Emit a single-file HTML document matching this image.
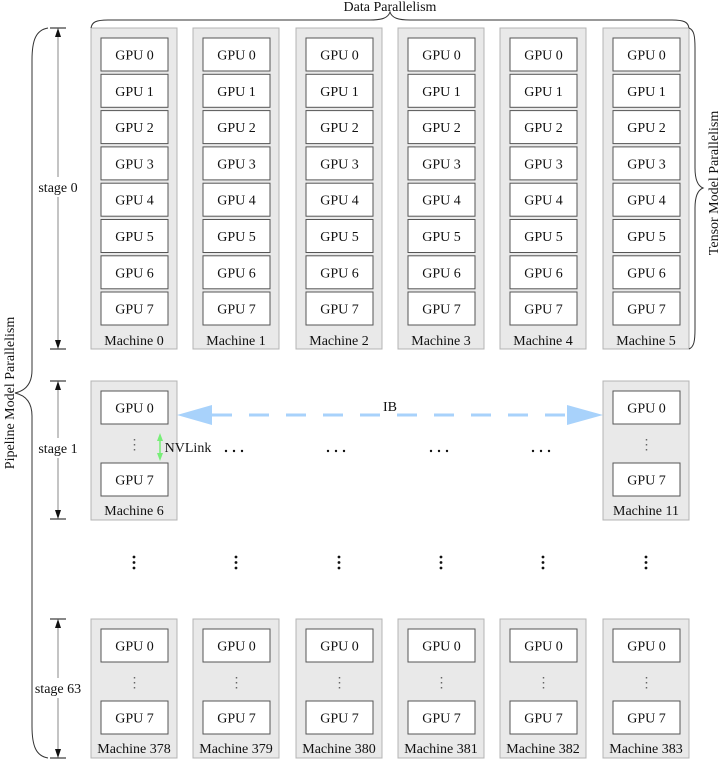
<!DOCTYPE html>
<html><head><meta charset="utf-8"><style>
html,body{margin:0;padding:0;background:#fff;}
svg{display:block;font-family:"Liberation Serif",serif;}
.m{fill:#e9e9e9;stroke:#b4b4b4;stroke-width:1;}
.g{fill:#fff;stroke:#555;stroke-width:1;}
text{font-size:14px;fill:#111;text-anchor:middle;}
</style></head><body>
<svg width="728" height="769" viewBox="0 0 728 769" xmlns="http://www.w3.org/2000/svg">
<defs>
<g id="top">
<rect class="m" x="0" y="28" width="86" height="321"/>
<rect class="g" x="10" y="38" width="67" height="33"/><text x="43.5" y="59.5">GPU 0</text>
<rect class="g" x="10" y="74.3" width="67" height="33"/><text x="43.5" y="95.8">GPU 1</text>
<rect class="g" x="10" y="110.6" width="67" height="33"/><text x="43.5" y="132.1">GPU 2</text>
<rect class="g" x="10" y="146.9" width="67" height="33"/><text x="43.5" y="168.4">GPU 3</text>
<rect class="g" x="10" y="183.2" width="67" height="33"/><text x="43.5" y="204.7">GPU 4</text>
<rect class="g" x="10" y="219.5" width="67" height="33"/><text x="43.5" y="241">GPU 5</text>
<rect class="g" x="10" y="255.8" width="67" height="33"/><text x="43.5" y="277.3">GPU 6</text>
<rect class="g" x="10" y="292" width="67" height="33"/><text x="43.5" y="313.5">GPU 7</text>
</g>
<g id="small">
<rect class="m" x="0" y="0" width="86" height="139"/>
<rect class="g" x="10" y="10" width="67" height="33"/><text x="43.5" y="31.5">GPU 0</text>
<text x="43.5" y="68" style="fill:#666">⋮</text>
<rect class="g" x="10" y="82" width="67" height="33"/><text x="43.5" y="103.5">GPU 7</text>
</g>
<g id="vd"><circle cx="0" cy="0" r="1.4" fill="#111"/><circle cx="0" cy="5.5" r="1.4" fill="#111"/><circle cx="0" cy="11" r="1.4" fill="#111"/></g>
<g id="hd"><circle cx="-8" cy="0" r="1.2" fill="#111"/><circle cx="0" cy="0" r="1.2" fill="#111"/><circle cx="8" cy="0" r="1.2" fill="#111"/></g>
</defs>

<use href="#top" x="91"/><text x="134" y="345">Machine 0</text>
<use href="#top" x="193"/><text x="236" y="345">Machine 1</text>
<use href="#top" x="296"/><text x="339" y="345">Machine 2</text>
<use href="#top" x="398"/><text x="441" y="345">Machine 3</text>
<use href="#top" x="500"/><text x="543" y="345">Machine 4</text>
<use href="#top" x="603"/><text x="646" y="345">Machine 5</text>

<use href="#small" x="91" y="381"/><text x="134" y="515">Machine 6</text>
<use href="#small" x="603" y="381"/><text x="646" y="515">Machine 11</text>
<use href="#hd" x="234" y="451"/><use href="#hd" x="336" y="451"/><use href="#hd" x="439" y="451"/><use href="#hd" x="541" y="451"/>

<line x1="212" y1="415" x2="568" y2="415" stroke="#a8d2fb" stroke-width="3" stroke-dasharray="20 17"/>
<polygon points="177,415 212,405 212,425" fill="#a8d2fb"/>
<polygon points="603,415 567,405 567,425" fill="#a8d2fb"/>
<text x="390" y="411">IB</text>

<line x1="160" y1="438" x2="160" y2="456" stroke="#77ee77" stroke-width="1.5"/>
<polygon points="160,433 157,441 163,441" fill="#77ee77"/>
<polygon points="160,461 157,453 163,453" fill="#77ee77"/>
<text x="188" y="452">NVLink</text>

<use href="#vd" x="134" y="557"/><use href="#vd" x="236" y="557"/><use href="#vd" x="339" y="557"/><use href="#vd" x="441" y="557"/><use href="#vd" x="543" y="557"/><use href="#vd" x="646" y="557"/>

<use href="#small" x="91" y="619"/><text x="134" y="753">Machine 378</text>
<use href="#small" x="193" y="619"/><text x="236" y="753">Machine 379</text>
<use href="#small" x="296" y="619"/><text x="339" y="753">Machine 380</text>
<use href="#small" x="398" y="619"/><text x="441" y="753">Machine 381</text>
<use href="#small" x="500" y="619"/><text x="543" y="753">Machine 382</text>
<use href="#small" x="603" y="619"/><text x="646" y="753">Machine 383</text>

<g stroke="#111" stroke-width="1">
<line x1="50" y1="28" x2="66" y2="28"/><line x1="50" y1="349" x2="66" y2="349"/>
<line x1="50" y1="381" x2="66" y2="381"/><line x1="50" y1="519" x2="66" y2="519"/>
<line x1="50" y1="619" x2="66" y2="619"/><line x1="50" y1="758" x2="66" y2="758"/>
</g>
<g stroke="#888" stroke-width="1">
<line x1="58" y1="34" x2="58" y2="177"/><line x1="58" y1="197" x2="58" y2="343"/>
<line x1="58" y1="387" x2="58" y2="438"/><line x1="58" y1="458" x2="58" y2="513"/>
<line x1="58" y1="625" x2="58" y2="678"/><line x1="58" y1="698" x2="58" y2="752"/>
</g>
<g fill="#111">
<polygon points="58,28 55,37 61,37"/><polygon points="58,349 55,340 61,340"/>
<polygon points="58,381 55,390 61,390"/><polygon points="58,519 55,510 61,510"/>
<polygon points="58,619 55,628 61,628"/><polygon points="58,758 55,749 61,749"/>
</g>
<text x="58" y="192">stage 0</text>
<text x="58" y="453">stage 1</text>
<text x="58" y="693">stage 63</text>

<g fill="none" stroke="#333" stroke-width="1">
<path d="M48,28 C36,30 32,40 32,60 L32,370 C32,385 24,391 15,393 C24,395 32,401 32,416 L32,726 C32,746 36,756 48,758"/>
<path d="M91,28 C92,22 96,20 108,20 L370,20 C382,20 388,18 390,12 C392,18 398,20 410,20 L672,20 C684,20 688,22 689,28"/>
<path d="M689,28 C694,30 695,36 695,48 L695,168 C695,180 698,186 703,188 C698,190 695,196 695,208 L695,329 C695,341 694,347 689,349"/>
</g>
<text x="390" y="11">Data Parallelism</text>
<text transform="translate(14,393) rotate(-90)">Pipeline Model Parallelism</text>
<text transform="translate(718,183) rotate(-90)">Tensor Model Parallelism</text>
</svg>
</body></html>
